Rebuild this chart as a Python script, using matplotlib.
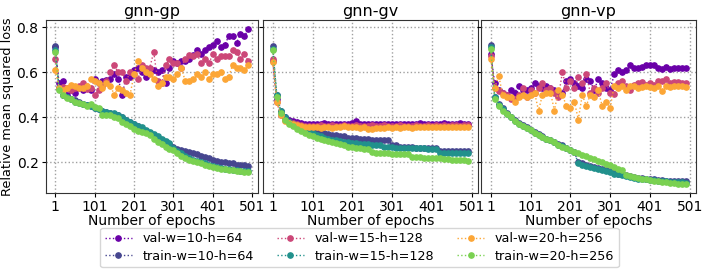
import matplotlib
matplotlib.use("Agg")
import matplotlib.pyplot as plt
import numpy as np

epochs = list(range(1, 500, 10))  # 1, 11, ..., 491

panel_titles = ["gnn-gp", "gnn-gv", "gnn-vp"]
series_labels = ["val-w=10-h=64", "train-w=10-h=64", "val-w=15-h=128",
                 "train-w=15-h=128", "val-w=20-h=256", "train-w=20-h=256"]
series_colors = ["#6a00a8", "#46468f", "#cc4778", "#21918c", "#fca636", "#7ad151"]

# ---------------- gnn-gp ----------------
gp_val10 = [0.71, 0.55, 0.56, 0.50, 0.52, 0.51, 0.53, 0.52, 0.53, 0.52,
            0.57, 0.55, 0.56, 0.565, 0.57, 0.59, 0.57, 0.50, 0.58, 0.58,
            0.61, 0.62, 0.60, 0.58, 0.61, 0.61, 0.60, 0.61, 0.55, 0.62,
            0.65, 0.64, 0.65, 0.65, 0.66, 0.675, 0.70, 0.68, 0.70, 0.71,
            0.72, 0.74, 0.71, 0.72, 0.76, 0.76, 0.73, 0.77, 0.76, 0.79]
gp_train10 = [0.715, 0.53, 0.50, 0.49, 0.48, 0.475, 0.47, 0.46, 0.455, 0.45,
              0.44, 0.435, 0.43, 0.425, 0.42, 0.415, 0.41, 0.40, 0.39, 0.38,
              0.37, 0.36, 0.35, 0.34, 0.33, 0.32, 0.31, 0.30, 0.29, 0.28,
              0.27, 0.26, 0.255, 0.25, 0.245, 0.24, 0.235, 0.23, 0.225, 0.22,
              0.21, 0.205, 0.20, 0.20, 0.195, 0.195, 0.19, 0.19, 0.19, 0.185]
gp_val15 = [0.66, 0.53, 0.535, 0.53, 0.52, 0.53, 0.54, 0.55, 0.525, 0.53,
            0.50, 0.52, 0.54, 0.56, 0.60, 0.63, 0.60, 0.60, 0.56, 0.60,
            0.59, 0.57, 0.63, 0.62, 0.62, 0.69, 0.56, 0.55, 0.63, 0.66,
            0.64, 0.64, 0.62, 0.66, 0.675, 0.67, 0.68, 0.64, 0.66, 0.64,
            0.68, 0.66, 0.67, 0.67, 0.67, 0.70, 0.69, 0.66, 0.68, 0.65]
gp_train15 = [0.70, 0.53, 0.50, 0.49, 0.48, 0.47, 0.465, 0.46, 0.455, 0.45,
              0.44, 0.435, 0.43, 0.425, 0.42, 0.42, 0.41, 0.40, 0.39, 0.38,
              0.37, 0.36, 0.355, 0.345, 0.335, 0.325, 0.315, 0.305, 0.295, 0.285,
              0.265, 0.25, 0.24, 0.23, 0.22, 0.21, 0.205, 0.20, 0.195, 0.19,
              0.185, 0.18, 0.175, 0.17, 0.17, 0.165, 0.165, 0.16, 0.16, 0.16]
gp_val20 = [0.61, 0.53, 0.52, 0.53, 0.545, 0.54, 0.53, 0.53, 0.54, 0.57,
            0.56, 0.55, 0.53, 0.55, 0.54, 0.50, 0.53, 0.52, 0.51, 0.50,
            0.59, 0.65, 0.62, 0.60, 0.59, 0.57, 0.54, 0.55, 0.58, 0.58,
            0.57, 0.59, 0.62, 0.56, 0.56, 0.57, 0.59, 0.58, 0.60, 0.57,
            0.59, 0.59, 0.60, 0.57, 0.58, 0.63, 0.62, 0.62, 0.61, 0.63]
gp_train20 = [0.69, 0.52, 0.50, 0.485, 0.48, 0.47, 0.465, 0.46, 0.45, 0.46,
              0.445, 0.44, 0.41, 0.41, 0.41, 0.40, 0.395, 0.38, 0.37, 0.36,
              0.35, 0.34, 0.335, 0.33, 0.32, 0.305, 0.29, 0.28, 0.27, 0.26,
              0.255, 0.24, 0.23, 0.22, 0.21, 0.205, 0.20, 0.195, 0.19, 0.185,
              0.18, 0.175, 0.17, 0.17, 0.165, 0.165, 0.16, 0.16, 0.155, 0.155]

# ---------------- gnn-gv ----------------
gv_val10 = [0.65, 0.48, 0.42, 0.40, 0.39, 0.385, 0.38, 0.375, 0.372, 0.37,
            0.37, 0.372, 0.368, 0.375, 0.37, 0.372, 0.368, 0.37, 0.372, 0.37,
            0.375, 0.385, 0.37, 0.368, 0.372, 0.37, 0.368, 0.372, 0.37, 0.37,
            0.372, 0.37, 0.368, 0.372, 0.37, 0.372, 0.37, 0.374, 0.37, 0.372,
            0.37, 0.372, 0.37, 0.374, 0.372, 0.37, 0.372, 0.373, 0.372, 0.372]
gv_train10 = [0.715, 0.50, 0.43, 0.40, 0.385, 0.375, 0.37, 0.36, 0.355, 0.35,
              0.345, 0.34, 0.335, 0.33, 0.325, 0.32, 0.32, 0.315, 0.315, 0.31,
              0.31, 0.31, 0.305, 0.305, 0.305, 0.30, 0.30, 0.30, 0.30, 0.30,
              0.275, 0.275, 0.27, 0.27, 0.27, 0.27, 0.265, 0.265, 0.265, 0.265,
              0.265, 0.265, 0.25, 0.25, 0.25, 0.25, 0.25, 0.25, 0.25, 0.25]
gv_val15 = [0.66, 0.47, 0.41, 0.39, 0.38, 0.375, 0.37, 0.365, 0.362, 0.36,
            0.362, 0.36, 0.365, 0.362, 0.36, 0.364, 0.362, 0.36, 0.365, 0.362,
            0.36, 0.365, 0.362, 0.36, 0.362, 0.364, 0.36, 0.362, 0.365, 0.362,
            0.362, 0.36, 0.364, 0.362, 0.362, 0.36, 0.364, 0.362, 0.362, 0.364,
            0.362, 0.364, 0.362, 0.364, 0.362, 0.364, 0.364, 0.362, 0.364, 0.364]
gv_train15 = [0.705, 0.50, 0.43, 0.40, 0.38, 0.37, 0.36, 0.35, 0.34, 0.335,
              0.33, 0.32, 0.315, 0.31, 0.305, 0.30, 0.30, 0.295, 0.29, 0.29,
              0.285, 0.285, 0.28, 0.28, 0.28, 0.275, 0.275, 0.275, 0.27, 0.27,
              0.27, 0.265, 0.265, 0.265, 0.265, 0.265, 0.262, 0.262, 0.262, 0.26,
              0.26, 0.26, 0.24, 0.24, 0.24, 0.24, 0.24, 0.24, 0.24, 0.24]
gv_val20 = [0.645, 0.47, 0.41, 0.385, 0.375, 0.37, 0.365, 0.36, 0.358, 0.356,
            0.355, 0.356, 0.354, 0.356, 0.355, 0.354, 0.356, 0.355, 0.36, 0.355,
            0.356, 0.355, 0.354, 0.356, 0.35, 0.35, 0.352, 0.354, 0.354, 0.355,
            0.354, 0.355, 0.354, 0.356, 0.355, 0.354, 0.356, 0.355, 0.356, 0.356,
            0.355, 0.356, 0.356, 0.355, 0.356, 0.357, 0.356, 0.356, 0.357, 0.356]
gv_train20 = [0.70, 0.49, 0.42, 0.39, 0.37, 0.36, 0.35, 0.34, 0.33, 0.32,
              0.315, 0.31, 0.305, 0.30, 0.295, 0.29, 0.285, 0.28, 0.275, 0.27,
              0.27, 0.265, 0.265, 0.26, 0.26, 0.245, 0.24, 0.24, 0.24, 0.24,
              0.235, 0.235, 0.235, 0.235, 0.235, 0.225, 0.222, 0.222, 0.22, 0.22,
              0.22, 0.22, 0.22, 0.215, 0.215, 0.21, 0.21, 0.21, 0.21, 0.208]

# ---------------- gnn-vp ----------------
vp_val10 = [0.68, 0.55, 0.52, 0.51, 0.50, 0.52, 0.51, 0.54, 0.52, 0.52,
            0.53, 0.55, 0.54, 0.53, 0.54, 0.53, 0.52, 0.50, 0.51, 0.56,
            0.57, 0.55, 0.54, 0.53, 0.57, 0.56, 0.52, 0.57, 0.55, 0.53,
            0.52, 0.59, 0.61, 0.60, 0.61, 0.63, 0.62, 0.62, 0.625, 0.63,
            0.63, 0.63, 0.62, 0.615, 0.625, 0.615, 0.62, 0.62, 0.62, 0.62]
vp_train10 = [0.72, 0.49, 0.46, 0.44, 0.42, 0.40, 0.39, 0.375, 0.365, 0.355,
              0.345, 0.335, 0.325, 0.315, 0.305, 0.30, 0.29, 0.28, 0.275, 0.265,
              0.255, 0.245, 0.20, 0.195, 0.19, 0.185, 0.18, 0.175, 0.17, 0.165,
              0.16, 0.155, 0.15, 0.146, 0.142, 0.138, 0.135, 0.132, 0.13, 0.128,
              0.126, 0.124, 0.122, 0.12, 0.119, 0.118, 0.117, 0.116, 0.115, 0.115]
vp_val15 = [0.67, 0.53, 0.515, 0.51, 0.50, 0.48, 0.48, 0.50, 0.53, 0.49,
            0.52, 0.51, 0.53, 0.55, 0.52, 0.53, 0.51, 0.49, 0.60, 0.53,
            0.56, 0.53, 0.58, 0.55, 0.59, 0.51, 0.53, 0.51, 0.53, 0.55,
            0.51, 0.505, 0.55, 0.56, 0.54, 0.52, 0.545, 0.55, 0.555, 0.545,
            0.55, 0.545, 0.56, 0.56, 0.57, 0.55, 0.555, 0.555, 0.55, 0.55]
vp_train15 = [0.71, 0.49, 0.455, 0.435, 0.415, 0.40, 0.385, 0.372, 0.362, 0.352,
              0.342, 0.332, 0.322, 0.313, 0.304, 0.297, 0.288, 0.279, 0.272, 0.263,
              0.254, 0.245, 0.195, 0.19, 0.185, 0.18, 0.175, 0.17, 0.165, 0.16,
              0.155, 0.15, 0.146, 0.142, 0.138, 0.134, 0.131, 0.128, 0.126, 0.124,
              0.122, 0.12, 0.118, 0.116, 0.115, 0.114, 0.113, 0.112, 0.111, 0.11]
vp_val20 = [0.66, 0.53, 0.585, 0.50, 0.49, 0.49, 0.47, 0.49, 0.50, 0.49,
            0.50, 0.51, 0.43, 0.50, 0.51, 0.51, 0.43, 0.52, 0.50, 0.45,
            0.44, 0.47, 0.39, 0.50, 0.45, 0.50, 0.49, 0.52, 0.45, 0.47,
            0.44, 0.54, 0.53, 0.54, 0.52, 0.54, 0.54, 0.53, 0.535, 0.54,
            0.535, 0.53, 0.54, 0.515, 0.54, 0.535, 0.54, 0.54, 0.54, 0.535]
vp_train20 = [0.705, 0.48, 0.45, 0.43, 0.415, 0.40, 0.385, 0.372, 0.362, 0.352,
              0.342, 0.332, 0.322, 0.313, 0.304, 0.297, 0.288, 0.279, 0.27, 0.262,
              0.254, 0.246, 0.24, 0.233, 0.226, 0.22, 0.213, 0.206, 0.2, 0.193,
              0.186, 0.178, 0.171, 0.165, 0.142, 0.138, 0.134, 0.13, 0.127, 0.124,
              0.121, 0.118, 0.116, 0.113, 0.111, 0.109, 0.107, 0.105, 0.104, 0.103]

panel_data = [
    [gp_val10, gp_train10, gp_val15, gp_train15, gp_val20, gp_train20],
    [gv_val10, gv_train10, gv_val15, gv_train15, gv_val20, gv_train20],
    [vp_val10, vp_train10, vp_val15, vp_train15, vp_val20, vp_train20],
]

xtick_vals = [1, 101, 201, 301, 401, 501]
ytick_vals = [0.2, 0.4, 0.6, 0.8]

W, H = 706, 273
fig = plt.figure(figsize=(W / 100, H / 100), dpi=100)

panel_px = [(45.5, 258.0), (263.0, 477.5), (481.0, 695.5)]
top_px, bot_px = 20.0, 192.7

axes = []
for i, (x0, x1) in enumerate(panel_px):
    rect = [x0 / W, (H - bot_px) / H, (x1 - x0) / W, (bot_px - top_px) / H]
    ax = fig.add_axes(rect, sharey=axes[0] if axes else None)
    axes.append(ax)

handles = []
for i, ax in enumerate(axes):
    for j, series in enumerate(panel_data[i]):
        h, = ax.plot(epochs, series, linestyle=":", linewidth=1.0, marker="o",
                     markersize=3.8, color=series_colors[j], label=series_labels[j])
        if i == 0:
            handles.append(h)
    ax.set_title(panel_titles[i], fontsize=11.5, pad=3)
    ax.set_xticks(xtick_vals)
    ax.set_xticklabels([str(v) for v in xtick_vals])
    ax.set_xlabel("Number of epochs", fontsize=10, labelpad=0)
    ax.grid(True, linestyle=":", color="#a0a0a0", linewidth=1.0)
    ax.tick_params(labelsize=10, length=3, pad=2)
    for s in ax.spines.values():
        s.set_color("#333333")
    if i > 0:
        ax.tick_params(labelleft=False)

axes[0].set_ylim(0.065, 0.832)
axes[0].set_yticks(ytick_vals)
axes[0].set_ylabel("Relative mean squared loss", fontsize=9.3, labelpad=2)

leg = fig.legend(handles=handles, labels=series_labels, ncol=3,
                 loc="center", bbox_to_anchor=(359.5 / W, 1 - 247.5 / H),
                 fontsize=9.2, frameon=True, columnspacing=1.8,
                 handlelength=2.1, handletextpad=0.85, borderpad=0.35,
                 labelspacing=0.35)
leg.get_frame().set_edgecolor("#cccccc")

fig.savefig("out.png", dpi=100)
